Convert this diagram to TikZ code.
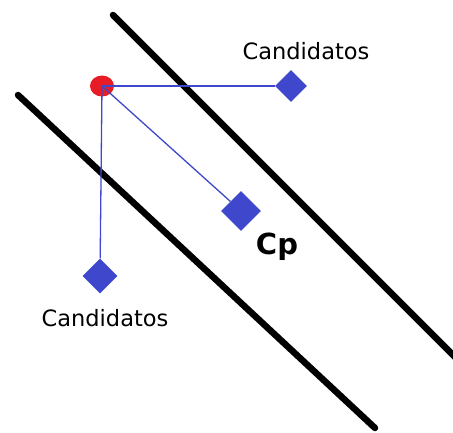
\documentclass[tikz,border=0pt]{standalone}
\usepackage{fontspec}
\setmainfont{DejaVu Sans}
\usetikzlibrary{shapes.geometric}
\definecolor{cand}{RGB}{63,72,204}
\definecolor{blob}{RGB}{232,28,36}
\tikzset{
  cdiamond/.style={diamond, fill=cand, draw=none, inner sep=0pt, minimum width=#1, minimum height=#1},
  link/.style={draw=cand, line width=1.3pt},
  wall/.style={draw=black, line width=6.5pt, line cap=round},
  lbl/.style={font=\fontsize{22.5}{22.5}\selectfont, inner sep=0pt, anchor=base}
}
\begin{document}
\begin{tikzpicture}[x=1pt,y=-1pt]
\useasboundingbox (0,0) rectangle (453,432);
% walls
\coordinate (w1a) at (113,15);
\coordinate (w1b) at (460,362);
\coordinate (w2a) at (18,95);
\coordinate (w2b) at (375,428);
\draw[wall] (w1a) -- (w1b);
\draw[wall] (w2a) -- (w2b);
% candidates
\node[cdiamond=32pt] (c1) at (291,86) {};
\node[cdiamond=40pt] (cp) at (241,211) {};
\node[cdiamond=35pt] (c2) at (100,276) {};
\node[ellipse, fill=blob, inner sep=0pt, minimum width=24pt, minimum height=21pt] (p) at (102,86) {};
\draw[link] (p.center) -- (c1);
\draw[link] (p.center) -- (c2);
\draw[link] (p.center) -- (cp);
% labels
\node[lbl] (t1) at (306,59) {Candidatos};
\node[lbl] (t2) at (105,326) {Candidatos};
\node[font=\fontsize{29}{29}\selectfont\bfseries, inner sep=0pt, anchor=base] (tcp) at (277,254) {Cp};
\end{tikzpicture}
\end{document}
